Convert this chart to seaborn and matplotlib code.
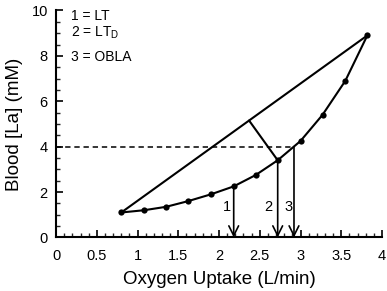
import numpy as np
import pandas as pd
import matplotlib
matplotlib.use("Agg")
import matplotlib.pyplot as plt
import seaborn as sns

# ---- data ----
vo2 = [0.80, 1.08, 1.35, 1.62, 1.90, 2.18, 2.45, 2.72, 3.00, 3.27, 3.55, 3.82]
lactate = [1.1, 1.2, 1.35, 1.6, 1.9, 2.25, 2.75, 3.4, 4.25, 5.4, 6.9, 8.9]
threshold_x = [2.18, 2.72, 2.92]          # LT, LT_D, OBLA
threshold_start = [2.25, 3.4, 4.0]        # where each arrow starts
threshold_labels = ["1", "2", "3"]
label_x = [2.10, 2.60, 2.85]
label_y = 1.35
obla_level = 4.0
legend_lines = ["1 = LT", "2 = LT$_\\mathregular{D}$", "3 = OBLA"]
legend_y = [9.76, 9.01, 7.95]
x_ticks = [0, 0.5, 1, 1.5, 2, 2.5, 3, 3.5, 4]
x_tick_labels = ["0", "0.5", "1", "1.5", "2", "2.5", "3", "3.5", "4"]
y_ticks = [0, 2, 4, 6, 8, 10]
y_tick_labels = ["0", "2", "4", "6", "8", "10"]

sns.set_style("ticks")
plt.rcParams["font.family"] = ["Liberation Sans", "DejaVu Sans"]
plt.rcParams["mathtext.fontset"] = "custom"
plt.rcParams["mathtext.rm"] = "Liberation Sans"

fig = plt.figure(figsize=(3.87, 2.91), dpi=100)
ax = fig.add_axes([0.145, 0.184, 0.842, 0.780])

df = pd.DataFrame({"vo2": vo2, "la": lactate})
sns.lineplot(data=df, x="vo2", y="la", ax=ax, color="black", lw=1.5,
             marker="o", markersize=4.5, markeredgewidth=0, sort=False)

# straight line joining first and last points
ends = df.iloc[[0, -1]]
sns.lineplot(data=ends, x="vo2", y="la", ax=ax, color="black", lw=1.5, sort=False)

ax.set_xlim(0, 4)
ax.set_ylim(0, 10)

# perpendicular from the LT_D point to the straight line (in display proportions)
bbox = ax.get_window_extent()
sx = bbox.width / 4.0
sy = bbox.height / 10.0
x1, y1 = ends["vo2"].iloc[0], ends["la"].iloc[0]
x2, y2 = ends["vo2"].iloc[1], ends["la"].iloc[1]
idx = vo2.index(threshold_x[1])
px, py = vo2[idx], lactate[idx]
a = np.array([x1 * sx, y1 * sy]); b = np.array([x2 * sx, y2 * sy]); p = np.array([px * sx, py * sy])
t = np.dot(p - a, b - a) / np.dot(b - a, b - a)
foot = a + t * (b - a)
ax.plot([px, foot[0] / sx], [py, foot[1] / sy], color="black", lw=1.5)

# dashed OBLA line
ax.plot([0, threshold_x[2]], [obla_level, obla_level], color="black", lw=1.1,
        linestyle=(0, (3.5, 2.5)))

# arrows
for xv, ys in zip(threshold_x, threshold_start):
    ax.annotate("", xy=(xv, 0), xytext=(xv, ys),
                arrowprops=dict(arrowstyle="->,head_length=0.7,head_width=0.35",
                                lw=1.2, color="black", shrinkA=0, shrinkB=0))
for lx, lab in zip(label_x, threshold_labels):
    ax.text(lx, label_y, lab, ha="center", va="center", fontsize=10.5, color="black")

for ly, txt in zip(legend_y, legend_lines):
    ax.text(0.18, ly, txt, ha="left", va="center", fontsize=10, color="black")

ax.set_xticks(x_ticks)
ax.set_xticklabels(x_tick_labels)
ax.set_yticks(y_ticks)
ax.set_yticklabels(y_tick_labels)
ax.set_xticks(np.arange(0, 4.01, 0.1), minor=True)
ax.set_yticks(np.arange(0, 10.01, 0.5), minor=True)
ax.tick_params(axis="both", which="major", direction="in", length=5, width=1.2,
               labelsize=10.5, pad=6, colors="black")
ax.tick_params(axis="both", which="minor", direction="in", length=3, width=1.0)
ax.tick_params(axis="x", which="major", pad=8)

for s in ["top", "right"]:
    ax.spines[s].set_visible(False)
for s in ["left", "bottom"]:
    ax.spines[s].set_linewidth(1.5)
    ax.spines[s].set_color("black")

ax.set_xlabel("Oxygen Uptake (L/min)", fontsize=13.5, labelpad=6, color="black")
ax.set_ylabel("Blood [La] (mM)", fontsize=13.5, labelpad=6, color="black")

fig.savefig("out.png", dpi=100)
